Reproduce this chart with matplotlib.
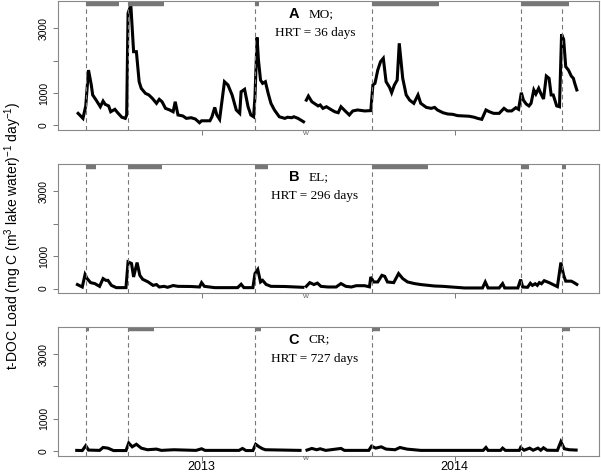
import numpy as np
import matplotlib
matplotlib.use('Agg')
import matplotlib.pyplot as plt
import matplotlib.transforms as mtransforms

plt.rcParams['font.family'] = 'Liberation Sans'
plt.rcParams['mathtext.fontset'] = 'custom'
plt.rcParams['mathtext.rm'] = 'Liberation Sans'

# days since 2013-01-01 ; nan marks the break in the record
mo_days = [-178, -171, -167, -163, -159, -157, -152, -146, -142, -139, -134, -131, -125, -121,
           -115, -110, -108, -106, -102, -98, -94, -90, -87, -81, -76, -71, -65, -61, -57, -52,
           -46, -41, -38, -34, -27, -22, -15, -9, -3, 0, 12, 15, 19, 22, 26, 33, 38, 44, 50, 55,
           57, 62, 67, 71, 75, 77, 80, 82, 85, 88, 92, 96, 100, 105, 112, 120, 124, 130, 133, 139,
           147, 149, 151, 154, 159, 164, 168, 171, 175, 180, 186, 192, 197, 201, 207, 213, 218,
           225, 235, 244, 247, 250, 254, 258, 262, 266, 271, 274, 278, 282, 285, 290, 295, 300,
           306, 312, 316, 324, 331, 336, 340, 348, 355, 362, 369, 379, 386, 393, 398, 404, 410,
           415, 421, 429, 436, 441, 447, 453, 457, 461, 464, 468, 472, 475, 479, 482, 486, 489,
           493, 497, 501, 504, 507, 512, 516, 519, 522, 525, 529, 533, 536, 538, 541]
mo_load = [370, 215, 600, 1710, 1250, 940, 780, 575, 750, 650, 600, 420, 495, 390,
           250, 215, 320, 3470, 3725, 2280, 2280, 1350, 1145, 990, 940, 835, 680, 805, 730, 525,
           475, 420, 730, 320, 290, 215, 235, 195, 80, 140, 140, 265, 555, 320, 185, 1350, 1250, 940, 475, 370,
           1040, 1115, 575, 320, 265, 885, 2720, 2020, 1400, 1300, 1350, 990, 680, 475, 265, 215, 250, 235, 265, 215,
           110, np.nan, 780, 905, 730, 660, 600, 630, 525, 575, 495, 420, 390, 575, 445, 320, 445,
           475, 445, 455, 1250, 1300, 1710, 1970, 2075, 1350, 1175, 1010, 1250, 1400, 2540, 1455, 940, 780,
           680, 940, 680, 555, 525, 555, 475, 390, 350, 340, 300, 290, 280, 250, 215, 185, 475,
           420, 370, 370, 525, 445, 445, 545, 495, 1010, 780, 660, 600, 680, 1095, 970, 1145, 990,
           815, 1525, 1455, 940, 940, 600, 575, 2820, 2660, 1815, 1710, 1525, 1455, 1300, 1095]

el_days = [-179, -172, -168, -165, -160, -154, -147, -142, -138, -135, -130, -123, -109, -106,
           -101, -98, -93, -89, -85, -77, -70, -65, -61, -54, -49, -41, -34, -15, -3, 0, 4, 19,
           52, 57, 61, 74, 77, 81, 85, 88, 93, 100, 120, 146, 149, 151, 156, 162, 167, 172, 182,
           194, 201, 208, 216, 223, 235, 242, 244, 248, 254, 260, 264, 268, 277, 284, 290, 297,
           307, 316, 336, 348, 360, 379, 405, 409, 413, 429, 434, 437, 456, 460, 463, 470, 474,
           477, 481, 484, 487, 490, 494, 501, 513, 518, 522, 525, 533, 537, 541]
el_load = [125, 50, 435, 310, 185, 155, 70, 310, 255, 255, 100, 30, 30, 825,
           775, 360, 805, 410, 290, 205, 100, 125, 50, 70, 40, 95, 70, 65, 50, 185, 70, 30,
           30, 135, 30, 30, 465, 590, 205, 255, 130, 70, 65, 40, np.nan, 70, 185, 125, 170, 70, 50,
           50, 155, 70, 50, 90, 90, 55, 360, 205, 205, 410, 380, 205, 185, 465, 310, 205,
           155, 125, 80, 70, 50, 20, 20, 205, 20, 20, 155, 20, 20, 280, 50, 40, 165,
           100, 150, 100, 185, 150, 245, 185, 60, 805, 410, 230, 230, 185, 130]

cr_days = [-180, -172, -167, -163, -147, -142, -135, -127, -109, -105, -100, -94, -87, -78, -65,
           -58, -40, -8, 0, 5, 54, 59, 64, 74, 78, 83, 88, 92, 142, 149, 152, 159, 166, 171, 179,
           201, 206, 241, 245, 251, 259, 266, 279, 286, 296, 316, 406, 410, 413, 431, 434, 438,
           458, 460, 465, 473, 478, 485, 489, 493, 498, 513, 518, 523, 530, 540]
cr_load = [20, 15, 165, 30, 20, 110, 90, 15, 15, 250, 130, 210, 90, 40, 60,
           20, 40, 20, 70, 20, 20, 80, 15, 15, 210, 130, 70, 40, 20, np.nan, 30, 80, 40, 70, 20,
           80, 20, 20, 150, 90, 130, 60, 40, 110, 60, 20, 20, 110, 20, 20, 90, 20,
           20, 110, 25, 90, 25, 90, 25, 100, 25, 20, 290, 70, 40, 30]

# event dates (dashed lines), days since 2013-01-01
events = [-167, -106, 77, 245, 460, 519]

# grey bars at top: (start, end) days since 2013-01-01
mo_bars = [(-167, -119), (-106, -54), (77, 83), (245, 343), (460, 530)]
el_bars = [(-167, -152), (-106, -57), (77, 96), (245, 326), (460, 472), (519, 526)]
cr_bars = [(-167, -163), (-106, -69), (77, 85), (245, 257), (460, 462), (519, 531)]

letters = ['A', 'B', 'C']
sites = ['MO;', 'EL;', 'CR;']
hrt = ['HRT = 36 days', 'HRT = 296 days', 'HRT = 727 days']

base = np.datetime64('2013-01-01')


def to_date(d):
    return base + np.array(d).astype('timedelta64[D]')


fig = plt.figure(figsize=(6.01, 4.72), dpi=100)
rects = [[0.0965, 0.7246, 0.9002, 0.2733],
         [0.0965, 0.3786, 0.9002, 0.2740],
         [0.0965, 0.0345, 0.9002, 0.2733]]
data = [(mo_days, mo_load, mo_bars), (el_days, el_load, el_bars), (cr_days, cr_load, cr_bars)]

for i, (days, load, bars) in enumerate(data):
    ax = fig.add_axes(rects[i])
    ax.plot(to_date(days), np.array(load, dtype=float), color='black', lw=2.2,
            solid_joinstyle='miter')
    for e in events:
        ax.axvline(to_date(e), color='#777777', lw=0.8, dashes=(4, 3))
    for s, e in bars:
        ax.hlines(3770, to_date(s), to_date(e), color='#777777', lw=3.2, capstyle='butt')
    ax.set_xlim(to_date(-207), to_date(573))
    ax.set_ylim(-145, 3850)
    ax.set_yticks([0, 1000, 2000, 3000])
    ax.set_yticklabels(['0', '1000', '', '3000'], rotation=90, va='center', fontsize=7.5)
    ax.set_xticks(to_date([0, 365]))
    if i == 2:
        ax.set_xticklabels(['2013', '2014'], fontsize=9)
    else:
        ax.set_xticklabels(['', ''])
    ax.tick_params(axis='both', direction='out', length=3.5, width=0.7, color='#777777', pad=0.5)
    ax.tick_params(axis='y', pad=3)
    for sp in ax.spines.values():
        sp.set_color('#888888')
        sp.set_linewidth(0.8)
    # axis break mark
    trans = mtransforms.blended_transform_factory(ax.transData, ax.transAxes)
    ax.text(to_date(150), -0.005, 'W', transform=trans, fontsize=4.5, color='#555555',
            ha='center', va='top')
    ax.text(0.436, 0.90, letters[i], transform=ax.transAxes, fontsize=10.5, fontweight='bold',
            ha='center', va='center')
    ax.text(0.463, 0.90, sites[i], transform=ax.transAxes, fontsize=9.5,
            family='Liberation Serif', ha='left', va='center')
    ax.text(0.475, 0.75, hrt[i], transform=ax.transAxes, fontsize=9.5,
            family='Liberation Serif', ha='center', va='center')

fig.text(0.022, 0.5, r't-DOC Load (mg C (m$^3$ lake water)$^{-1}$ day$^{-1}$)',
         rotation=90, ha='center', va='center', fontsize=10)

fig.savefig('out.png', dpi=100)
